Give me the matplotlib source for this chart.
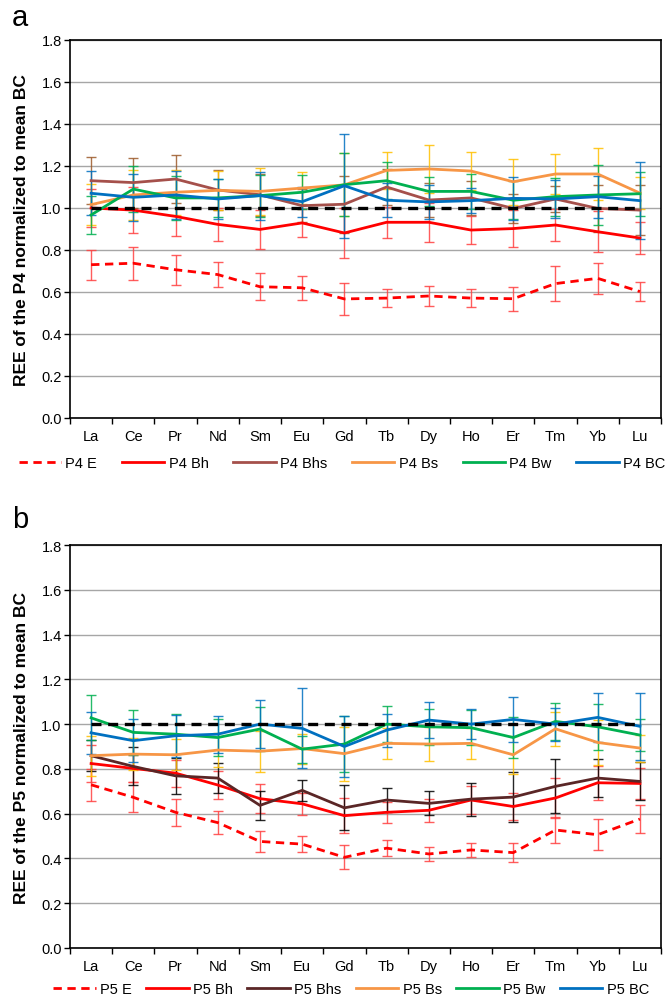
import matplotlib
matplotlib.use("Agg")
import matplotlib.pyplot as plt
import numpy as np

plt.rcParams['font.family'] = ['Liberation Sans', 'DejaVu Sans']

elements = ["La", "Ce", "Pr", "Nd", "Sm", "Eu", "Gd", "Tb", "Dy", "Ho", "Er", "Tm", "Yb", "Lu"]
yticks = [0.0, 0.2, 0.4, 0.6, 0.8, 1.0, 1.2, 1.4, 1.6, 1.8]
mean_bc = [1.0] * 14

# ---- Panel a (P4) ----
p4_labels = ["P4 E", "P4 Bh", "P4 Bhs", "P4 Bs", "P4 Bw", "P4 BC"]
p4_E   = [0.730, 0.737, 0.706, 0.683, 0.625, 0.620, 0.567, 0.571, 0.581, 0.571, 0.568, 0.640, 0.665, 0.602]
p4_Bh  = [1.000, 0.990, 0.960, 0.922, 0.898, 0.929, 0.881, 0.932, 0.932, 0.895, 0.902, 0.919, 0.887, 0.857]
p4_Bhs = [1.130, 1.121, 1.138, 1.086, 1.063, 1.011, 1.018, 1.100, 1.038, 1.048, 0.998, 1.043, 0.998, 0.990]
p4_Bs  = [1.016, 1.062, 1.075, 1.084, 1.079, 1.095, 1.110, 1.179, 1.186, 1.176, 1.125, 1.162, 1.162, 1.071]
p4_Bw  = [0.967, 1.090, 1.048, 1.048, 1.059, 1.075, 1.111, 1.130, 1.079, 1.079, 1.037, 1.054, 1.062, 1.068]
p4_BC  = [1.070, 1.051, 1.062, 1.043, 1.059, 1.030, 1.106, 1.037, 1.029, 1.035, 1.046, 1.043, 1.054, 1.035]
p4_E_err   = [0.072, 0.079, 0.071, 0.059, 0.064, 0.058, 0.077, 0.044, 0.048, 0.044, 0.057, 0.084, 0.073, 0.044]
p4_Bh_err  = [0.090, 0.111, 0.095, 0.079, 0.094, 0.065, 0.119, 0.073, 0.094, 0.068, 0.087, 0.075, 0.097, 0.075]
p4_Bhs_err = [0.111, 0.119, 0.116, 0.097, 0.100, 0.080, 0.136, 0.086, 0.080, 0.080, 0.070, 0.060, 0.110, 0.120]
p4_Bs_err  = [0.097, 0.119, 0.108, 0.094, 0.110, 0.075, 0.150, 0.090, 0.116, 0.089, 0.110, 0.094, 0.125, 0.075]
p4_Bw_err  = [0.092, 0.111, 0.103, 0.090, 0.100, 0.080, 0.149, 0.087, 0.070, 0.083, 0.090, 0.090, 0.144, 0.105]
p4_BC_err  = [0.105, 0.111, 0.113, 0.095, 0.114, 0.071, 0.248, 0.080, 0.080, 0.060, 0.103, 0.090, 0.100, 0.183]

# ---- Panel b (P5) ----
p5_labels = ["P5 E", "P5 Bh", "P5 Bhs", "P5 Bs", "P5 Bw", "P5 BC"]
p5_E   = [0.729, 0.673, 0.606, 0.560, 0.476, 0.464, 0.405, 0.446, 0.420, 0.438, 0.426, 0.527, 0.506, 0.576]
p5_Bh  = [0.824, 0.802, 0.781, 0.728, 0.667, 0.644, 0.591, 0.606, 0.615, 0.661, 0.632, 0.670, 0.738, 0.735]
p5_Bhs = [0.859, 0.811, 0.769, 0.759, 0.637, 0.704, 0.626, 0.661, 0.646, 0.665, 0.674, 0.722, 0.759, 0.744]
p5_Bs  = [0.859, 0.866, 0.863, 0.884, 0.879, 0.891, 0.868, 0.914, 0.911, 0.914, 0.863, 0.979, 0.918, 0.893]
p5_Bw  = [1.028, 0.963, 0.955, 0.940, 0.978, 0.888, 0.911, 1.000, 0.988, 0.984, 0.940, 1.012, 0.988, 0.951]
p5_BC  = [0.961, 0.926, 0.948, 0.955, 1.000, 0.981, 0.900, 0.973, 1.018, 1.000, 1.021, 1.000, 1.030, 0.990]
p5_E_err   = [0.071, 0.067, 0.061, 0.052, 0.048, 0.036, 0.054, 0.036, 0.033, 0.033, 0.042, 0.060, 0.070, 0.063]
p5_Bh_err  = [0.082, 0.060, 0.060, 0.061, 0.064, 0.050, 0.077, 0.048, 0.050, 0.061, 0.061, 0.088, 0.077, 0.070]
p5_Bhs_err = [0.070, 0.085, 0.079, 0.067, 0.064, 0.048, 0.100, 0.052, 0.054, 0.074, 0.110, 0.120, 0.083, 0.085]
p5_Bs_err  = [0.089, 0.070, 0.070, 0.075, 0.091, 0.067, 0.120, 0.070, 0.074, 0.070, 0.086, 0.076, 0.100, 0.060]
p5_Bw_err  = [0.100, 0.100, 0.089, 0.082, 0.100, 0.060, 0.124, 0.079, 0.080, 0.079, 0.092, 0.083, 0.104, 0.070]
p5_BC_err  = [0.095, 0.095, 0.094, 0.082, 0.107, 0.179, 0.134, 0.074, 0.080, 0.067, 0.100, 0.074, 0.110, 0.150]

line_colors_a = ["#FF0000", "#FF0000", "#A5504B", "#F79646", "#00B050", "#0070C0"]
err_colors_a  = ["#FF4040", "#FF4040", "#9C5A2A", "#FFC000", "#00B050", "#0070C0"]
line_colors_b = ["#FF0000", "#FF0000", "#5A2626", "#F79646", "#00B050", "#0070C0"]
err_colors_b  = ["#FF4040", "#FF4040", "#000000", "#FFC000", "#00B050", "#0070C0"]
styles = ["--", "-", "-", "-", "-", "-"]

fig = plt.figure(figsize=(6.68, 10.03), dpi=100)
ax_a = fig.add_axes([70/668, 1 - 419/1003, 591/668, 378/1003])
ax_b = fig.add_axes([70/668, 1 - 949/1003, 591/668, 403/1003])

def draw(ax, series, errs, labels, lcolors, ecolors, ylabel, legend_x, legend_y, colspace):
    x = np.arange(len(elements))
    handles = []
    for vals, err, lab, lc, ec, ls in zip(series, errs, labels, lcolors, ecolors, styles):
        ax.errorbar(x, vals, yerr=err, fmt='none', ecolor=ec, elinewidth=1.0,
                    capsize=3.5, capthick=1.0, alpha=0.85, zorder=3)
        h, = ax.plot(x, vals, color=lc, lw=2.0, ls=ls, zorder=4, label=lab,
                     dashes=(3, 2) if ls == "--" else (None, None))
        handles.append(h)
    ax.plot(x, mean_bc, color="black", lw=2.4, ls="--", dashes=(3, 2), zorder=6)
    ax.set_xlim(-0.5, len(elements) - 0.5)
    ax.set_ylim(0, 1.8)
    ax.set_yticks(yticks)
    ax.set_yticklabels([f"{v:.1f}" for v in yticks], fontsize=10.5)
    ax.yaxis.grid(True, color="#A6A6A6", lw=1.0)
    ax.set_axisbelow(True)
    ax.set_xticks(np.arange(-0.5, len(elements)), minor=False)
    ax.set_xticklabels([])
    ax.set_xticks(x, minor=True)
    ax.set_xticklabels(elements, minor=True, fontsize=10.5)
    ax.tick_params(axis='x', which='major', direction='out', length=4, width=1)
    ax.tick_params(axis='x', which='minor', length=0, pad=8)
    ax.tick_params(axis='y', direction='out', length=4, width=1, pad=2)
    for s in ax.spines.values():
        s.set_color("black")
        s.set_linewidth(1.2)
    ax.set_ylabel(ylabel, fontsize=12.5, fontweight='bold')
    ax.yaxis.set_label_coords(-0.069, 0.5)
    fig.legend(handles=handles, labels=labels, loc='center',
               bbox_to_anchor=(legend_x, legend_y), ncol=6, frameon=False,
               fontsize=10.5, handlelength=2.9, handletextpad=0.3,
               columnspacing=colspace)

draw(ax_a, [p4_E, p4_Bh, p4_Bhs, p4_Bs, p4_Bw, p4_BC],
     [p4_E_err, p4_Bh_err, p4_Bhs_err, p4_Bs_err, p4_Bw_err, p4_BC_err],
     p4_labels, line_colors_a, err_colors_a,
     "REE of the P4 normalized to mean BC", 342/668, 1 - 464/1003, 1.7)
draw(ax_b, [p5_E, p5_Bh, p5_Bhs, p5_Bs, p5_Bw, p5_BC],
     [p5_E_err, p5_Bh_err, p5_Bhs_err, p5_Bs_err, p5_Bw_err, p5_BC_err],
     p5_labels, line_colors_b, err_colors_b,
     "REE of the P5 normalized to mean BC", 351/668, 1 - 990/1003, 1.0)

fig.text(12/668, 1 - 18/1003, "a", fontsize=21, va='center', ha='left')
fig.text(12/668, 1 - 520/1003, "b", fontsize=21, va='center', ha='left')

fig.savefig("out.png", dpi=100)
